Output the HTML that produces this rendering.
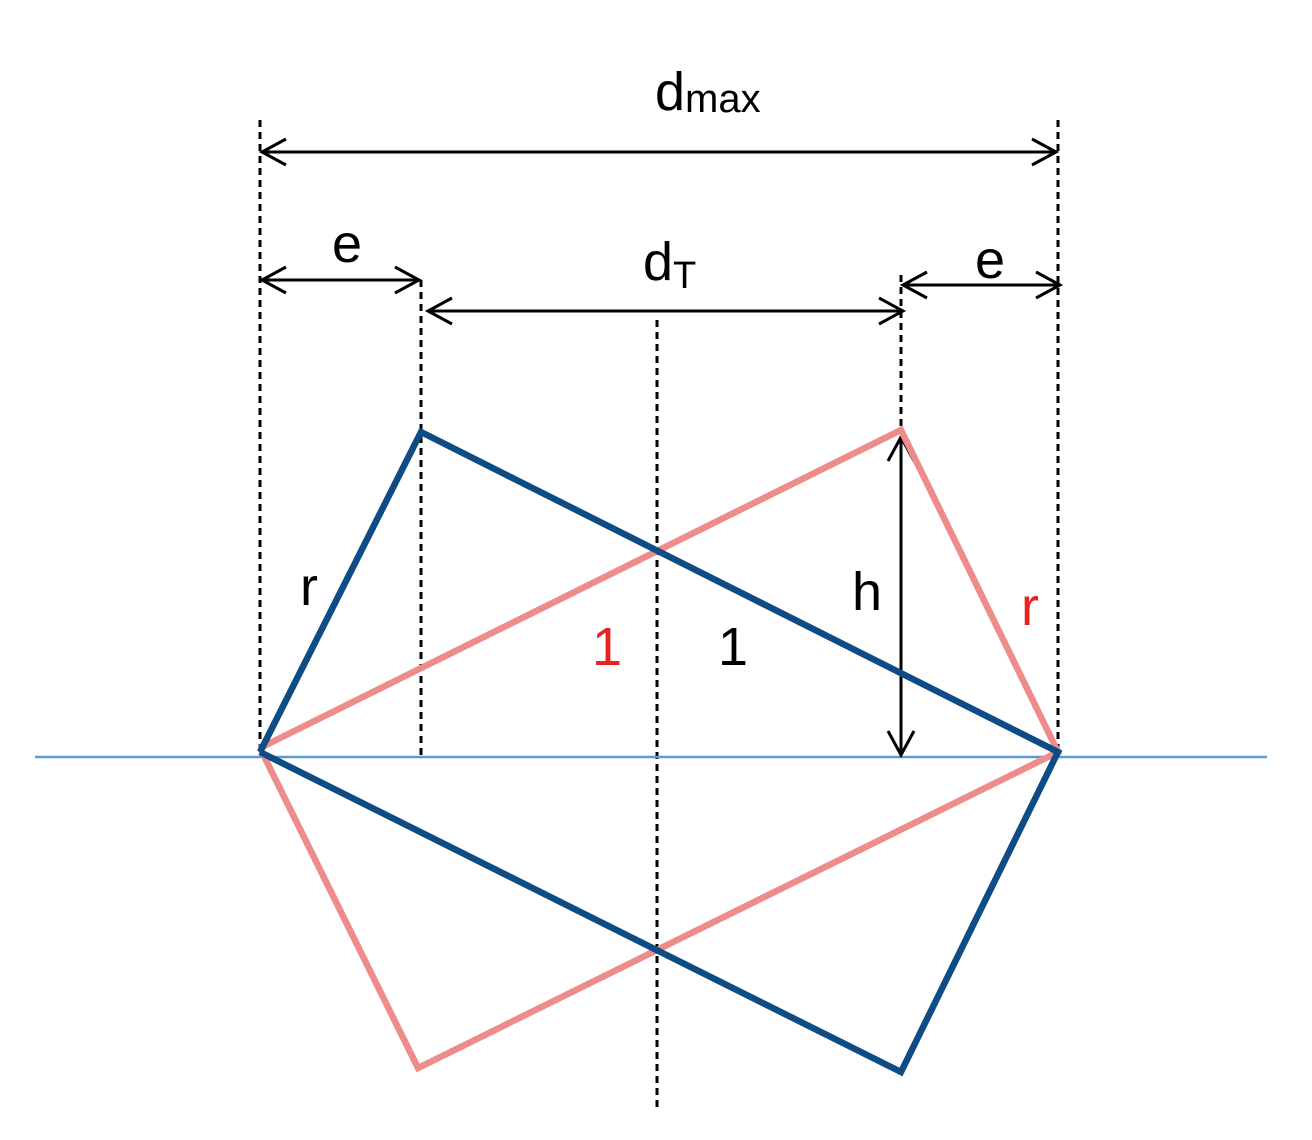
<!DOCTYPE html>
<html><head><meta charset="utf-8"><style>
html,body{margin:0;padding:0;background:#fff;}
</style></head><body>
<svg width="1312" height="1135" viewBox="0 0 1312 1135" xmlns="http://www.w3.org/2000/svg" font-family="Liberation Sans, sans-serif">
<g stroke="#000" stroke-width="3" stroke-dasharray="7,5" fill="none">
<line x1="260" y1="120" x2="260" y2="757"/>
<line x1="1058" y1="120" x2="1058" y2="757"/>
<line x1="421" y1="280" x2="421" y2="757"/>
<line x1="901" y1="275" x2="901" y2="432"/>
<line x1="657" y1="320" x2="657" y2="1112"/>
</g>
<line x1="35" y1="757" x2="1267" y2="757" stroke="#5b9bd5" stroke-width="2.5"/>
<g stroke="#000" stroke-width="3" fill="none">
<line x1="262" y1="152" x2="1056" y2="152"/>
<polyline points="286,139 262,152 286,165"/><polyline points="1032,139 1056,152 1032,165"/>
<line x1="262" y1="280" x2="419" y2="280"/>
<polyline points="286,267 262,280 286,293"/><polyline points="395,267 419,280 395,293"/>
<line x1="428" y1="311" x2="903" y2="311"/>
<polyline points="452,298 428,311 452,324"/><polyline points="879,298 903,311 879,324"/>
<line x1="903" y1="285" x2="1060" y2="285"/>
<polyline points="927,272 903,285 927,298"/><polyline points="1036,272 1060,285 1036,298"/>
<line x1="901" y1="437" x2="901" y2="755"/>
<polyline points="888,461 901,437 914,461"/><polyline points="888,731 901,755 914,731"/>
</g>
<g fill="none" stroke-width="6.5" stroke-linejoin="miter">
<polyline points="260,748 901,430 1058,752 418,1068 260,748" stroke="#ee8c8c"/>
<polyline points="260,752 421,432 1058,752 901,1072 260,752" stroke="#0e4c85"/>
</g>
<g font-size="54" fill="#000">
<text x="655" y="110">d<tspan font-size="40" dy="2">max</tspan></text>
<text x="332" y="262">e</text>
<text x="643" y="280">d<tspan font-size="38" dy="8">T</tspan></text>
<text x="975" y="278">e</text>
<text x="300" y="605">r</text>
<text x="852" y="610">h</text>
<text x="1021" y="625" fill="#e8231f">r</text>
<text x="592" y="665" fill="#e8231f">1</text>
<text x="718" y="665">1</text>
</g>
</svg>
</body></html>
